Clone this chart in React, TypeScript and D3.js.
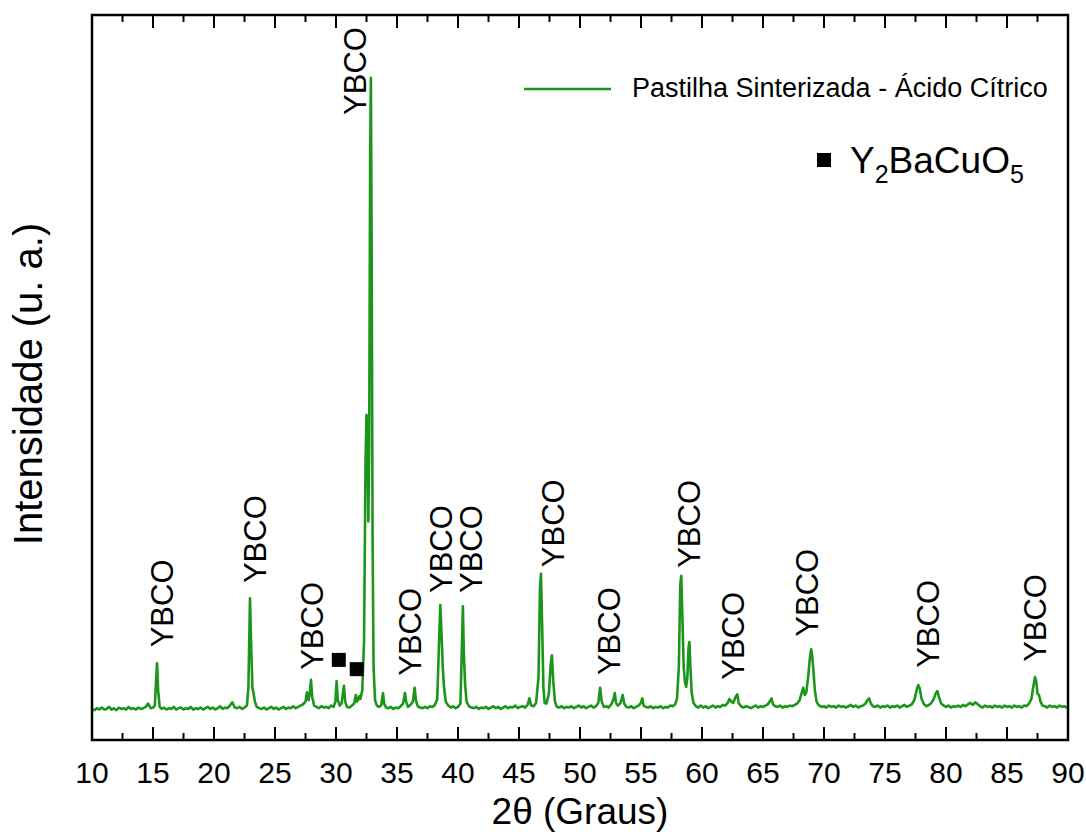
import React from "react";
import * as d3 from "d3";

// XRD pattern: [2θ (graus), intensity (u. a.)]
const pattern: [number, number][] = [
  [10.0, 47], [10.2, 45], [10.4, 48], [10.6, 46], [10.8, 49], [11.0, 46], [11.2, 47], [11.4, 50], [11.6, 46], [11.8, 48],
  [12.0, 45], [12.2, 49], [12.4, 47], [12.6, 48], [12.8, 46], [13.0, 50], [13.2, 47], [13.4, 48], [13.6, 46], [13.8, 49],
  [14.0, 47], [14.2, 48], [14.4, 50], [14.6, 55], [14.8, 48], [15.0, 49], [15.15, 52], [15.25, 90], [15.33, 116], [15.42, 75],
  [15.55, 50], [15.7, 47], [15.9, 49], [16.1, 46], [16.3, 48], [16.5, 47], [16.7, 50], [16.9, 46], [17.1, 48], [17.3, 49],
  [17.5, 46], [17.7, 48], [17.9, 47], [18.1, 50], [18.3, 46], [18.5, 48], [18.7, 47], [18.9, 49], [19.1, 46], [19.3, 48],
  [19.5, 50], [19.7, 47], [19.9, 49], [20.1, 46], [20.3, 48], [20.5, 51], [20.7, 47], [20.9, 49], [21.1, 48], [21.3, 52],
  [21.5, 57], [21.7, 49], [21.9, 48], [22.1, 50], [22.3, 47], [22.5, 49], [22.7, 52], [22.82, 80], [22.95, 214], [23.05, 140],
  [23.15, 79], [23.25, 70], [23.35, 58], [23.5, 50], [23.7, 48], [23.9, 47], [24.1, 49], [24.3, 46], [24.5, 48], [24.7, 50],
  [24.9, 47], [25.1, 49], [25.3, 46], [25.5, 48], [25.7, 50], [25.9, 47], [26.1, 49], [26.3, 48], [26.5, 51], [26.7, 48],
  [26.9, 50], [27.1, 52], [27.3, 54], [27.5, 58], [27.62, 72], [27.75, 60], [27.85, 70], [27.95, 91], [28.05, 65], [28.2, 52],
  [28.4, 50], [28.6, 48], [28.8, 51], [29.0, 49], [29.2, 50], [29.4, 48], [29.6, 52], [29.8, 50], [29.95, 58], [30.05, 89],
  [30.15, 60], [30.3, 52], [30.45, 55], [30.65, 82], [30.75, 58], [30.9, 50], [31.1, 49], [31.3, 52], [31.5, 55], [31.62, 68],
  [31.72, 58], [31.8, 60], [31.9, 66], [32.0, 62], [32.15, 75], [32.3, 150], [32.42, 420], [32.5, 491], [32.58, 480], [32.65, 330],
  [32.72, 440], [32.8, 880], [32.86, 1000], [32.92, 760], [33.0, 300], [33.08, 110], [33.2, 60], [33.35, 52], [33.5, 50], [33.7, 52],
  [33.85, 71], [33.95, 55], [34.1, 49], [34.3, 48], [34.5, 50], [34.7, 47], [34.9, 49], [35.1, 48], [35.3, 51], [35.5, 55],
  [35.65, 71], [35.75, 58], [35.9, 50], [36.1, 53], [36.3, 58], [36.45, 79], [36.55, 60], [36.7, 51], [36.9, 49], [37.1, 48],
  [37.3, 50], [37.5, 48], [37.7, 51], [37.9, 50], [38.1, 53], [38.3, 62], [38.45, 150], [38.55, 204], [38.65, 160], [38.75, 110],
  [38.85, 80], [39.0, 58], [39.2, 52], [39.4, 49], [39.6, 51], [39.8, 48], [40.0, 50], [40.2, 55], [40.32, 140], [40.4, 202],
  [40.48, 130], [40.58, 85], [40.7, 58], [40.9, 51], [41.1, 49], [41.3, 48], [41.5, 50], [41.7, 47], [41.9, 49], [42.1, 48],
  [42.3, 50], [42.5, 47], [42.7, 49], [42.9, 51], [43.1, 48], [43.3, 50], [43.5, 47], [43.7, 49], [43.9, 51], [44.1, 48],
  [44.3, 50], [44.5, 49], [44.7, 52], [44.9, 48], [45.1, 50], [45.3, 51], [45.5, 49], [45.7, 53], [45.85, 63], [46.0, 52],
  [46.2, 51], [46.4, 56], [46.6, 95], [46.72, 230], [46.8, 251], [46.9, 170], [47.0, 80], [47.1, 56], [47.25, 55], [47.45, 70],
  [47.6, 115], [47.7, 128], [47.8, 90], [47.95, 58], [48.1, 50], [48.3, 49], [48.5, 51], [48.7, 48], [48.9, 50], [49.1, 49],
  [49.3, 51], [49.5, 48], [49.7, 50], [49.9, 52], [50.1, 49], [50.3, 51], [50.5, 48], [50.7, 50], [50.9, 52], [51.1, 49],
  [51.3, 51], [51.5, 56], [51.65, 79], [51.78, 58], [51.95, 50], [52.15, 51], [52.35, 49], [52.6, 55], [52.75, 62], [52.85, 71],
  [52.95, 56], [53.1, 52], [53.3, 55], [53.5, 68], [53.62, 55], [53.8, 50], [54.0, 49], [54.2, 51], [54.4, 48], [54.6, 50],
  [54.8, 52], [55.0, 56], [55.1, 63], [55.22, 52], [55.4, 50], [55.6, 49], [55.8, 51], [56.0, 48], [56.2, 50], [56.4, 49],
  [56.6, 51], [56.8, 48], [57.0, 50], [57.2, 49], [57.4, 52], [57.6, 51], [57.8, 54], [57.95, 62], [58.1, 110], [58.22, 235],
  [58.3, 248], [58.4, 180], [58.5, 110], [58.6, 88], [58.7, 80], [58.8, 95], [58.9, 140], [58.97, 148], [59.05, 110], [59.15, 72],
  [59.3, 56], [59.5, 51], [59.7, 49], [59.9, 52], [60.1, 49], [60.3, 51], [60.5, 48], [60.7, 50], [60.9, 52], [61.1, 49],
  [61.3, 51], [61.5, 50], [61.7, 53], [61.9, 52], [62.1, 56], [62.25, 62], [62.4, 58], [62.55, 56], [62.75, 65], [62.9, 69],
  [63.0, 56], [63.2, 51], [63.4, 49], [63.6, 51], [63.8, 50], [64.0, 48], [64.2, 50], [64.4, 52], [64.6, 49], [64.8, 51],
  [65.0, 50], [65.2, 52], [65.4, 54], [65.55, 58], [65.7, 63], [65.82, 54], [66.0, 51], [66.2, 50], [66.4, 52], [66.6, 49],
  [66.8, 51], [67.0, 50], [67.2, 52], [67.4, 51], [67.6, 53], [67.8, 55], [68.0, 60], [68.15, 70], [68.3, 79], [68.42, 68],
  [68.55, 72], [68.7, 95], [68.85, 125], [68.95, 137], [69.05, 125], [69.15, 100], [69.25, 75], [69.4, 57], [69.6, 52], [69.8, 50],
  [70.0, 51], [70.2, 49], [70.4, 52], [70.6, 50], [70.8, 51], [71.0, 49], [71.2, 52], [71.4, 50], [71.6, 51], [71.8, 49],
  [72.0, 51], [72.2, 53], [72.4, 50], [72.6, 52], [72.8, 49], [73.0, 51], [73.2, 52], [73.4, 55], [73.55, 60], [73.7, 63],
  [73.82, 56], [74.0, 51], [74.2, 50], [74.4, 52], [74.6, 49], [74.8, 51], [75.0, 50], [75.2, 52], [75.4, 49], [75.6, 51],
  [75.8, 50], [76.0, 52], [76.2, 49], [76.4, 51], [76.6, 53], [76.8, 50], [77.0, 52], [77.2, 54], [77.4, 60], [77.6, 76],
  [77.72, 83], [77.85, 78], [78.0, 62], [78.2, 54], [78.4, 51], [78.6, 53], [78.8, 56], [79.0, 62], [79.15, 70], [79.3, 74],
  [79.42, 65], [79.6, 55], [79.8, 52], [80.0, 50], [80.2, 52], [80.4, 49], [80.6, 51], [80.8, 50], [81.0, 52], [81.2, 50],
  [81.4, 53], [81.6, 51], [81.8, 54], [82.0, 56], [82.2, 53], [82.4, 57], [82.6, 54], [82.8, 51], [83.0, 49], [83.2, 52],
  [83.4, 50], [83.6, 51], [83.8, 49], [84.0, 52], [84.2, 50], [84.4, 51], [84.6, 49], [84.8, 52], [85.0, 50], [85.2, 51],
  [85.4, 49], [85.6, 52], [85.8, 50], [86.0, 51], [86.2, 49], [86.4, 52], [86.6, 51], [86.8, 55], [87.0, 62], [87.15, 80],
  [87.3, 95], [87.4, 88], [87.5, 70], [87.62, 68], [87.75, 58], [87.9, 52], [88.1, 51], [88.3, 49], [88.5, 52], [88.7, 50],
  [88.9, 51], [89.1, 49], [89.3, 52], [89.5, 50], [89.7, 51], [89.9, 49], [90.0, 50],
];

// "YBCO" phase labels: centre angle and the intensity level their foot sits at
const ybcoAngles = [15.76, 23.4, 28.0, 31.55, 36.07, 38.62, 41.09, 47.75, 52.35, 58.95, 62.55, 68.6, 78.5, 87.3];
const ybcoLevels = [140, 237, 106, 944, 97, 222, 222, 261, 98, 260, 91, 156, 109, 118];

// Y2BaCuO5 markers
const y211Angles = [30.23, 31.7];
const y211Levels = [121, 107];

const xTickLabels = [10, 15, 20, 25, 30, 35, 40, 45, 50, 55, 60, 65, 70, 75, 80, 85, 90];
const xMinorTicks = [12.5, 17.5, 22.5, 27.5, 32.5, 37.5, 42.5, 47.5, 52.5, 57.5, 62.5, 67.5, 72.5, 77.5, 82.5, 87.5];

const seriesName = "Pastilha Sinterizada - Ácido Cítrico";
const green = "#1b961b";
const font = "'Liberation Sans', Arial, sans-serif";

const W = 1086;
const H = 832;
const left = 92, right = 1068, top = 15, bottom = 740;

export default function App() {
  const x = d3.scaleLinear().domain([10, 90]).range([left, right]);
  const y = d3.scaleLinear().domain([0, 1095]).range([bottom, top]);

  const line = d3
    .line<[number, number]>()
    .x((d) => x(d[0]))
    .y((d) => y(d[1]));

  const major = 13;
  const minor = 7;

  return (
    <svg
      width={W}
      height={H}
      style={{ position: "absolute", left: 0, top: 0, background: "#fff" }}
      fontFamily={font}
    >
      <defs>
        <clipPath id="plot">
          <rect x={left} y={top} width={right - left} height={bottom - top} />
        </clipPath>
      </defs>

      {/* spectrum */}
      <path
        d={line(pattern) ?? ""}
        fill="none"
        stroke={green}
        strokeWidth={2.6}
        strokeLinejoin="round"
        clipPath="url(#plot)"
      />

      {/* ticks, bottom and top, pointing inward */}
      <g stroke="#000" strokeWidth={2}>
        {xTickLabels.map((v) => (
          <g key={"M" + v}>
            <line x1={x(v)} x2={x(v)} y1={bottom} y2={bottom - major} />
            <line x1={x(v)} x2={x(v)} y1={top} y2={top + major} />
          </g>
        ))}
        {xMinorTicks.map((v) => (
          <g key={"m" + v}>
            <line x1={x(v)} x2={x(v)} y1={bottom} y2={bottom - minor} />
            <line x1={x(v)} x2={x(v)} y1={top} y2={top + minor} />
          </g>
        ))}
      </g>

      {/* frame */}
      <rect
        x={left}
        y={top}
        width={right - left}
        height={bottom - top}
        fill="none"
        stroke="#000"
        strokeWidth={2.5}
      />

      {/* tick labels */}
      {xTickLabels.map((v) => (
        <text key={"t" + v} x={x(v)} y={783} fontSize={30} textAnchor="middle" fill="#000">
          {v}
        </text>
      ))}

      {/* axis titles */}
      <text x={(left + right) / 2} y={824} fontSize={37} textAnchor="middle" fill="#000">
        2θ (Graus)
      </text>
      <text
        transform={`translate(42, 384) rotate(-90)`}
        fontSize={40}
        textAnchor="middle"
        fill="#000"
      >
        Intensidade (u. a.)
      </text>

      {/* YBCO labels */}
      {ybcoAngles.map((a, i) => (
        <text
          key={"y" + i}
          transform={`translate(${x(a) + 11}, ${y(ybcoLevels[i])}) rotate(-90)`}
          fontSize={31}
          textAnchor="start"
          fill="#000"
        >
          YBCO
        </text>
      ))}

      {/* Y2BaCuO5 markers */}
      {y211Angles.map((a, i) => (
        <rect
          key={"s" + i}
          x={x(a) - 7}
          y={y(y211Levels[i]) - 7}
          width={14}
          height={14}
          fill="#000"
        />
      ))}

      {/* legend */}
      <line x1={524} x2={611} y1={89} y2={89} stroke={green} strokeWidth={2.5} />
      <text x={632} y={97} fontSize={27} fill="#000">
        {seriesName}
      </text>
      <rect x={817} y={153} width={14} height={14} fill="#000" />
      <text x={850} y={173} fontSize={37} fill="#000">
        Y<tspan fontSize={25} dy={10}>2</tspan>
        <tspan dy={-10}>BaCuO</tspan>
        <tspan fontSize={25} dy={10}>5</tspan>
      </text>
    </svg>
  );
}
